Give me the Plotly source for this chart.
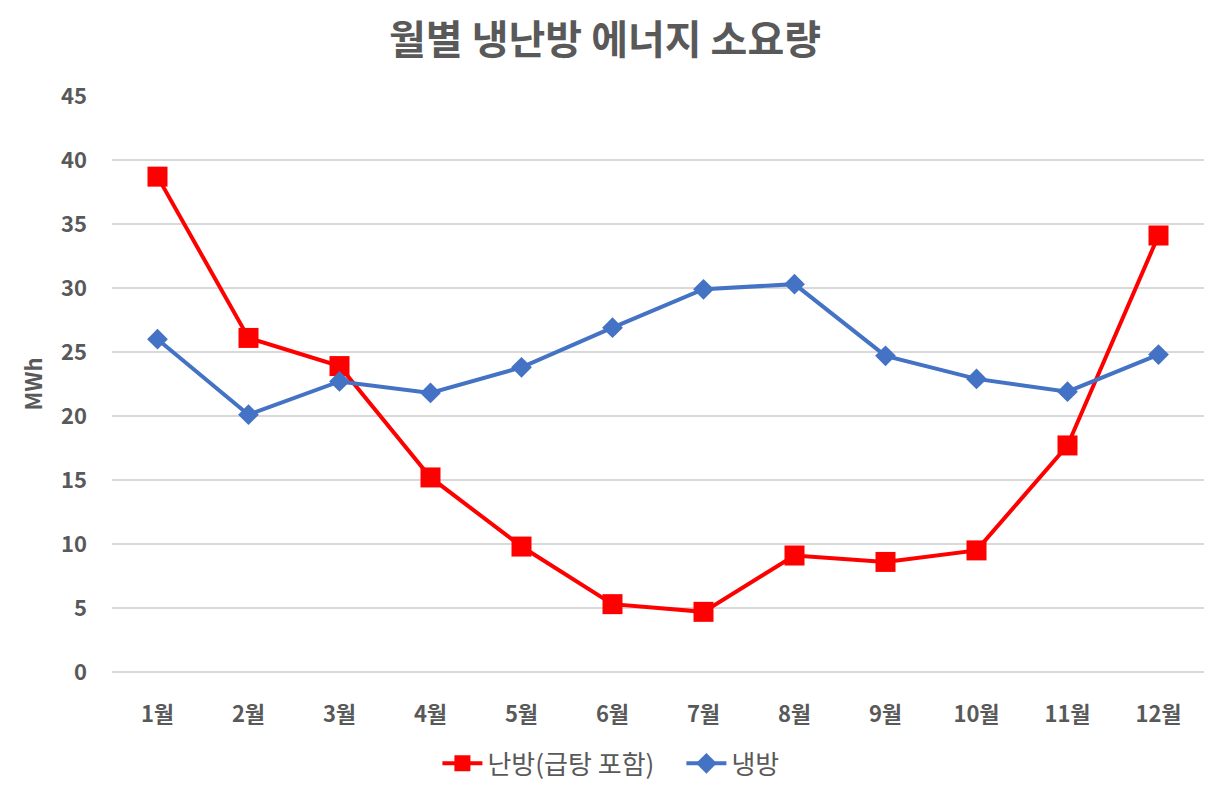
import plotly.graph_objects as go

months = ["1월", "2월", "3월", "4월", "5월", "6월", "7월", "8월", "9월", "10월", "11월", "12월"]
heating = [38.7, 26.1, 23.9, 15.2, 9.8, 5.3, 4.7, 9.1, 8.6, 9.5, 17.7, 34.1]
cooling = [26.0, 20.1, 22.7, 21.8, 23.8, 26.9, 29.9, 30.3, 24.7, 22.9, 21.9, 24.8]

FONT = "Noto Sans CJK KR"
GRAY = "#595959"

fig = go.Figure()
fig.add_trace(go.Scatter(
    x=months, y=heating, name="난방(급탕 포함)", mode="lines+markers",
    line=dict(color="#FF0000", width=4),
    marker=dict(symbol="square", size=20, color="#FF0000"),
))
fig.add_trace(go.Scatter(
    x=months, y=cooling, name="냉방", mode="lines+markers",
    line=dict(color="#4472C4", width=4),
    marker=dict(symbol="diamond", size=16, color="#4472C4"),
))

fig.update_layout(
    width=1211, height=783,
    paper_bgcolor="white", plot_bgcolor="white",
    margin=dict(l=104, r=15, t=88, b=119, autoexpand=False),
    font=dict(family=FONT, color=GRAY),
    title=dict(text="<b>월별 냉난방 에너지 소요량</b>", x=0.493, xanchor="center",
               y=0.959, yanchor="middle", font=dict(size=40, color=GRAY, family=FONT)),
    showlegend=True,
    legend=dict(orientation="h", x=0.298, xanchor="left", y=-0.118, yanchor="top",
                font=dict(size=26, color=GRAY, family=FONT), itemwidth=40,
                entrywidth=189, entrywidthmode="pixels"),
)
fig.update_xaxes(
    range=[-0.5, 11.5],
    showgrid=False, showline=False, ticks="", automargin=False,
    tickfont=dict(size=22, color=GRAY, family=FONT),
    ticklabelstandoff=27,
    tickprefix="<b>", ticksuffix="</b>",
)
fig.update_yaxes(
    range=[0, 45], dtick=5, showgrid=True, gridcolor="#D9D9D9", gridwidth=2,
    zeroline=True, zerolinecolor="#D9D9D9", zerolinewidth=2,
    showline=False, ticks="", automargin=False,
    tickfont=dict(size=22, color=GRAY, family=FONT),
    tickprefix="<b>", ticksuffix="</b>",
    ticklabelstandoff=24,
    title=dict(text="<b>MWh</b>", font=dict(size=22, color=GRAY, family=FONT), standoff=12),
)

fig.write_html("out.html")
